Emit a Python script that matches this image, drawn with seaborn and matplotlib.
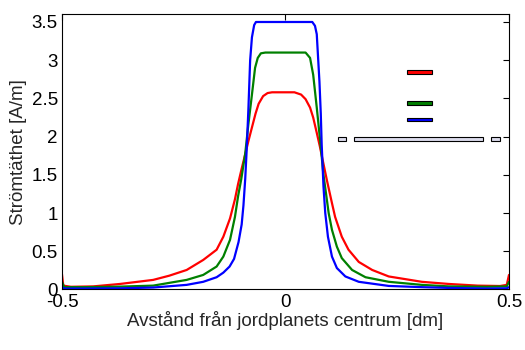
import numpy as np
import pandas as pd
import matplotlib
matplotlib.use("Agg")
import matplotlib.pyplot as plt
import seaborn as sns
from matplotlib.patches import Rectangle

# --- data ---
x_red = [-0.5, -0.497, -0.48, -0.43, -0.37, -0.296, -0.26, -0.221, -0.184, -0.154,
         -0.139, -0.124, -0.113, -0.106, -0.098, -0.09, -0.083, -0.075, -0.067, -0.06,
         -0.05, -0.04, -0.03, 0.0,
         0.02, 0.035, 0.045, 0.055, 0.062, 0.07, 0.077, 0.083, 0.093, 0.104,
         0.111, 0.126, 0.141, 0.164, 0.194, 0.231, 0.305, 0.365, 0.43, 0.48,
         0.495, 0.5]
y_red = [0.20, 0.05, 0.035, 0.04, 0.072, 0.125, 0.18, 0.255, 0.386, 0.52,
         0.69, 0.93, 1.18, 1.38, 1.58, 1.77, 1.94, 2.12, 2.30, 2.43,
         2.53, 2.57, 2.58, 2.58,
         2.58, 2.55, 2.49, 2.38, 2.25, 2.05, 1.87, 1.70, 1.42, 1.13,
         0.95, 0.69, 0.52, 0.36, 0.255, 0.17, 0.10, 0.072, 0.05, 0.045,
         0.06, 0.19]

x_green = [-0.5, -0.495, -0.45, -0.37, -0.296, -0.221, -0.184, -0.154, -0.139, -0.124,
           -0.113, -0.106, -0.099, -0.09, -0.083, -0.075, -0.068, -0.062, -0.055, -0.045,
           0.0,
           0.045, 0.055, 0.062, 0.07, 0.077, 0.085, 0.092, 0.0966, 0.104, 0.115,
           0.126, 0.149, 0.179, 0.231, 0.305, 0.365, 0.45, 0.495, 0.5]
y_green = [0.10, 0.03, 0.03, 0.037, 0.05, 0.125, 0.19, 0.30, 0.43, 0.65,
           0.95, 1.22, 1.44, 1.78, 2.16, 2.55, 2.90, 3.03, 3.09, 3.10,
           3.10,
           3.10, 3.03, 2.81, 2.38, 1.98, 1.50, 1.20, 1.00, 0.78, 0.56,
           0.41, 0.255, 0.16, 0.10, 0.06, 0.04, 0.035, 0.04, 0.10]

x_blue = [-0.5, -0.495, -0.45, -0.37, -0.296, -0.221, -0.184, -0.154, -0.139, -0.125,
          -0.115, -0.105, -0.098, -0.094, -0.09, -0.087, -0.083, -0.079, -0.075, -0.07,
          -0.066, 0.0,
          0.06, 0.066, 0.07, 0.076, 0.079, 0.081, 0.085, 0.089, 0.095, 0.104,
          0.115, 0.134, 0.164, 0.231, 0.305, 0.365, 0.45, 0.495, 0.5]
y_blue = [0.03, 0.012, 0.012, 0.015, 0.025, 0.06, 0.10, 0.16, 0.22, 0.30,
          0.40, 0.62, 0.85, 1.10, 1.45, 1.80, 2.35, 3.00, 3.30, 3.46,
          3.50, 3.50,
          3.50, 3.45, 3.34, 2.72, 2.30, 1.90, 1.35, 1.00, 0.69, 0.43,
          0.28, 0.17, 0.10, 0.046, 0.03, 0.02, 0.012, 0.015, 0.03]

series_names = ["r", "g", "b"]
series_colors = {"r": "#ff0000", "g": "#008000", "b": "#0000ff"}

x_ticks = [-0.5, 0, 0.5]
x_ticklabels = ["-0.5", "0", "0.5"]
y_ticks = [0, 0.5, 1, 1.5, 2, 2.5, 3, 3.5]
y_ticklabels = ["0", "0.5", "1", "1.5", "2", "2.5", "3", "3.5"]

df = pd.concat([
    pd.DataFrame({"x": x_red, "y": y_red, "s": "r"}),
    pd.DataFrame({"x": x_green, "y": y_green, "s": "g"}),
    pd.DataFrame({"x": x_blue, "y": y_blue, "s": "b"}),
], ignore_index=True)

sns.set_style("white")
plt.rcParams["font.family"] = ["Liberation Sans", "DejaVu Sans"]
plt.rcParams["axes.unicode_minus"] = False

fig = plt.figure(figsize=(5.25, 3.5), dpi=100)
ax = fig.add_axes([0.118, 0.173, 0.8515, 0.786])

sns.lineplot(data=df, x="x", y="y", hue="s", palette=series_colors,
             hue_order=series_names, estimator=None, sort=False,
             linewidth=1.6, legend=False, ax=ax)

ax.set_xlim(-0.5, 0.5)
ax.set_ylim(0, 3.6)
ax.set_xticks(x_ticks)
ax.set_xticklabels(x_ticklabels)
ax.set_yticks(y_ticks)
ax.set_yticklabels(y_ticklabels)
ax.tick_params(direction="in", top=True, right=True, length=4, width=0.8,
               labelsize=13.5, colors="black", pad=3)
for sp in ax.spines.values():
    sp.set_visible(True)
    sp.set_color("black")
    sp.set_linewidth(0.8)

ax.set_xlabel("Avstånd från jordplanets centrum [dm]", fontsize=13.5, labelpad=0)
ax.set_ylabel("Strömtäthet [A/m]", fontsize=13.5, labelpad=3)

# legend-like swatches (no text) and small boxes, in axes fraction
tr = ax.transAxes
for yc, c in [(0.789, "#ff0000"), (0.677, "#008000"), (0.618, "#0000ff")]:
    ax.add_patch(Rectangle((0.771, yc - 0.007), 0.056, 0.014, transform=tr,
                           facecolor=c, edgecolor="black", linewidth=0.8,
                           clip_on=False, zorder=5))
for x0, w in [(0.618, 0.018), (0.653, 0.2895), (0.9604, 0.0188)]:
    ax.add_patch(Rectangle((x0, 0.546 - 0.007), w, 0.014, transform=tr,
                           facecolor="#dcdcec", edgecolor="black", linewidth=0.8,
                           clip_on=False, zorder=5))

fig.savefig("out.png", dpi=100)
